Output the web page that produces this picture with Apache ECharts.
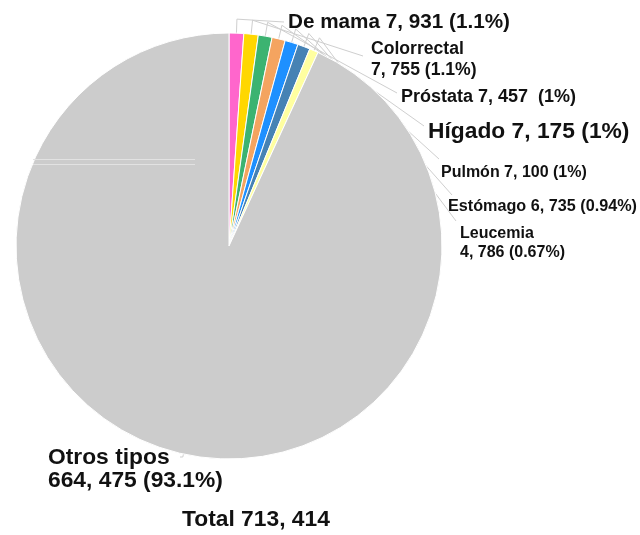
<!DOCTYPE html>
<html>
<head>
<meta charset="utf-8">
<script src="https://cdn.jsdelivr.net/npm/echarts@6/dist/echarts.min.js"></script>
<style>
html,body{margin:0;padding:0;background:#fff;}
#chart{width:640px;height:535px;}
</style>
</head>
<body>
<div id="chart"></div>
<script>
// Data
const categories = ['De mama', 'Colorrectal', 'Próstata', 'Hígado', 'Pulmón', 'Estómago', 'Leucemia', 'Otros tipos'];
const values = [7931, 7755, 7457, 7175, 7100, 6735, 4786, 664475];
const pctLabels = ['1.1%', '1.1%', '1%', '1%', '1%', '0.94%', '0.67%', '93.1%'];
const totalLabel = 'Total 713, 414';

// Styles / layout (kept separate from data)
const colors = ['#ff66cc', '#ffd700', '#3cb371', '#f4a460', '#1e90ff', '#4682b4', '#ffffa0', '#cccccc'];
const labelPos = [
  {x: 288, y: 22, size: 20.7, lh: 22},
  {x: 371, y: 60, size: 17.6, lh: 21},
  {x: 401, y: 97, size: 18, lh: 20},
  {x: 428, y: 132, size: 22.8, lh: 24},
  {x: 441, y: 173, size: 16, lh: 18},
  {x: 448, y: 207, size: 16.2, lh: 18},
  {x: 460, y: 243, size: 16, lh: 19},
  {x: 48, y: 469, size: 22.8, lh: 23}
];
// where each leader line meets its label (offset from label's left / middle)
const lineEnd = [
  {dx: -4, dy: 0},
  {dx: -8, dy: -4},
  {dx: -4, dy: -4},
  {dx: -4, dy: -6},
  {dx: -2, dy: -14},
  {dx: 4, dy: -12},
  {dx: -4, dy: -22},
  {dx: 132, dy: -12}
];
const twoLine = [false, true, false, false, false, false, true, true];
const CX = 229, CY = 246, R = 213;

function fmtNum(v) {
  return v.toLocaleString('en-US').replace(/,/g, ', ');
}

const data = categories.map((c, i) => {
  const sep = twoLine[i] ? '\n' : ' ';
  const gap = i === 2 ? '  ' : ' ';
  return {
    name: c,
    value: values[i],
    itemStyle: {color: colors[i]},
    label: {
      formatter: c + sep + fmtNum(values[i]) + gap + '(' + pctLabels[i] + ')',
      fontSize: labelPos[i].size,
      lineHeight: labelPos[i].lh
    }
  };
});

const chart = echarts.init(document.getElementById('chart'), null, {renderer: 'canvas'});
chart.setOption({
  animation: false,
  backgroundColor: '#ffffff',
  title: {
    text: totalLabel,
    left: 177,
    top: 503,
    textStyle: {fontFamily: 'Liberation Sans', fontWeight: 'bold', fontSize: 22.8, color: '#111'}
  },
  series: [{
    type: 'pie',
    center: [CX, CY],
    radius: [0, R],
    startAngle: 90,
    clockwise: true,
    avoidLabelOverlap: false,
    itemStyle: {borderColor: '#ffffff', borderWidth: 1},
    label: {
      show: true,
      position: 'outside',
      fontFamily: 'Liberation Sans',
      fontWeight: 'bold',
      color: '#111',
      align: 'left'
    },
    labelLine: {
      show: true,
      length: 10,
      length2: 10,
      lineStyle: {color: '#cfcfcf', width: 1}
    },
    labelLayout: function (params) {
      const i = params.dataIndex;
      const p = labelPos[i];
      const res = {x: p.x, y: p.y, align: 'left', verticalAlign: 'middle'};
      const pts = params.labelLinePoints;
      if (pts && pts.length) {
        const s = pts[0];
        const vx = s[0] - CX, vy = s[1] - CY;
        const len = Math.sqrt(vx * vx + vy * vy) || 1;
        const e = [p.x + lineEnd[i].dx, p.y + lineEnd[i].dy];
        const out = i === 7 ? 3 : 14;
        const m = [s[0] + vx / len * out, s[1] + vy / len * out];
        res.labelLinePoints = [s, m, e];
      }
      return res;
    },
    data: data
  }],
  graphic: [
    {type: 'line', z: 100, shape: {x1: 33, y1: 159.5, x2: 195, y2: 159.5}, style: {stroke: '#e2e2e2', lineWidth: 1}},
    {type: 'line', z: 100, shape: {x1: 33, y1: 164.5, x2: 195, y2: 164.5}, style: {stroke: '#e2e2e2', lineWidth: 1}}
  ]
});
</script>
</body>
</html>
